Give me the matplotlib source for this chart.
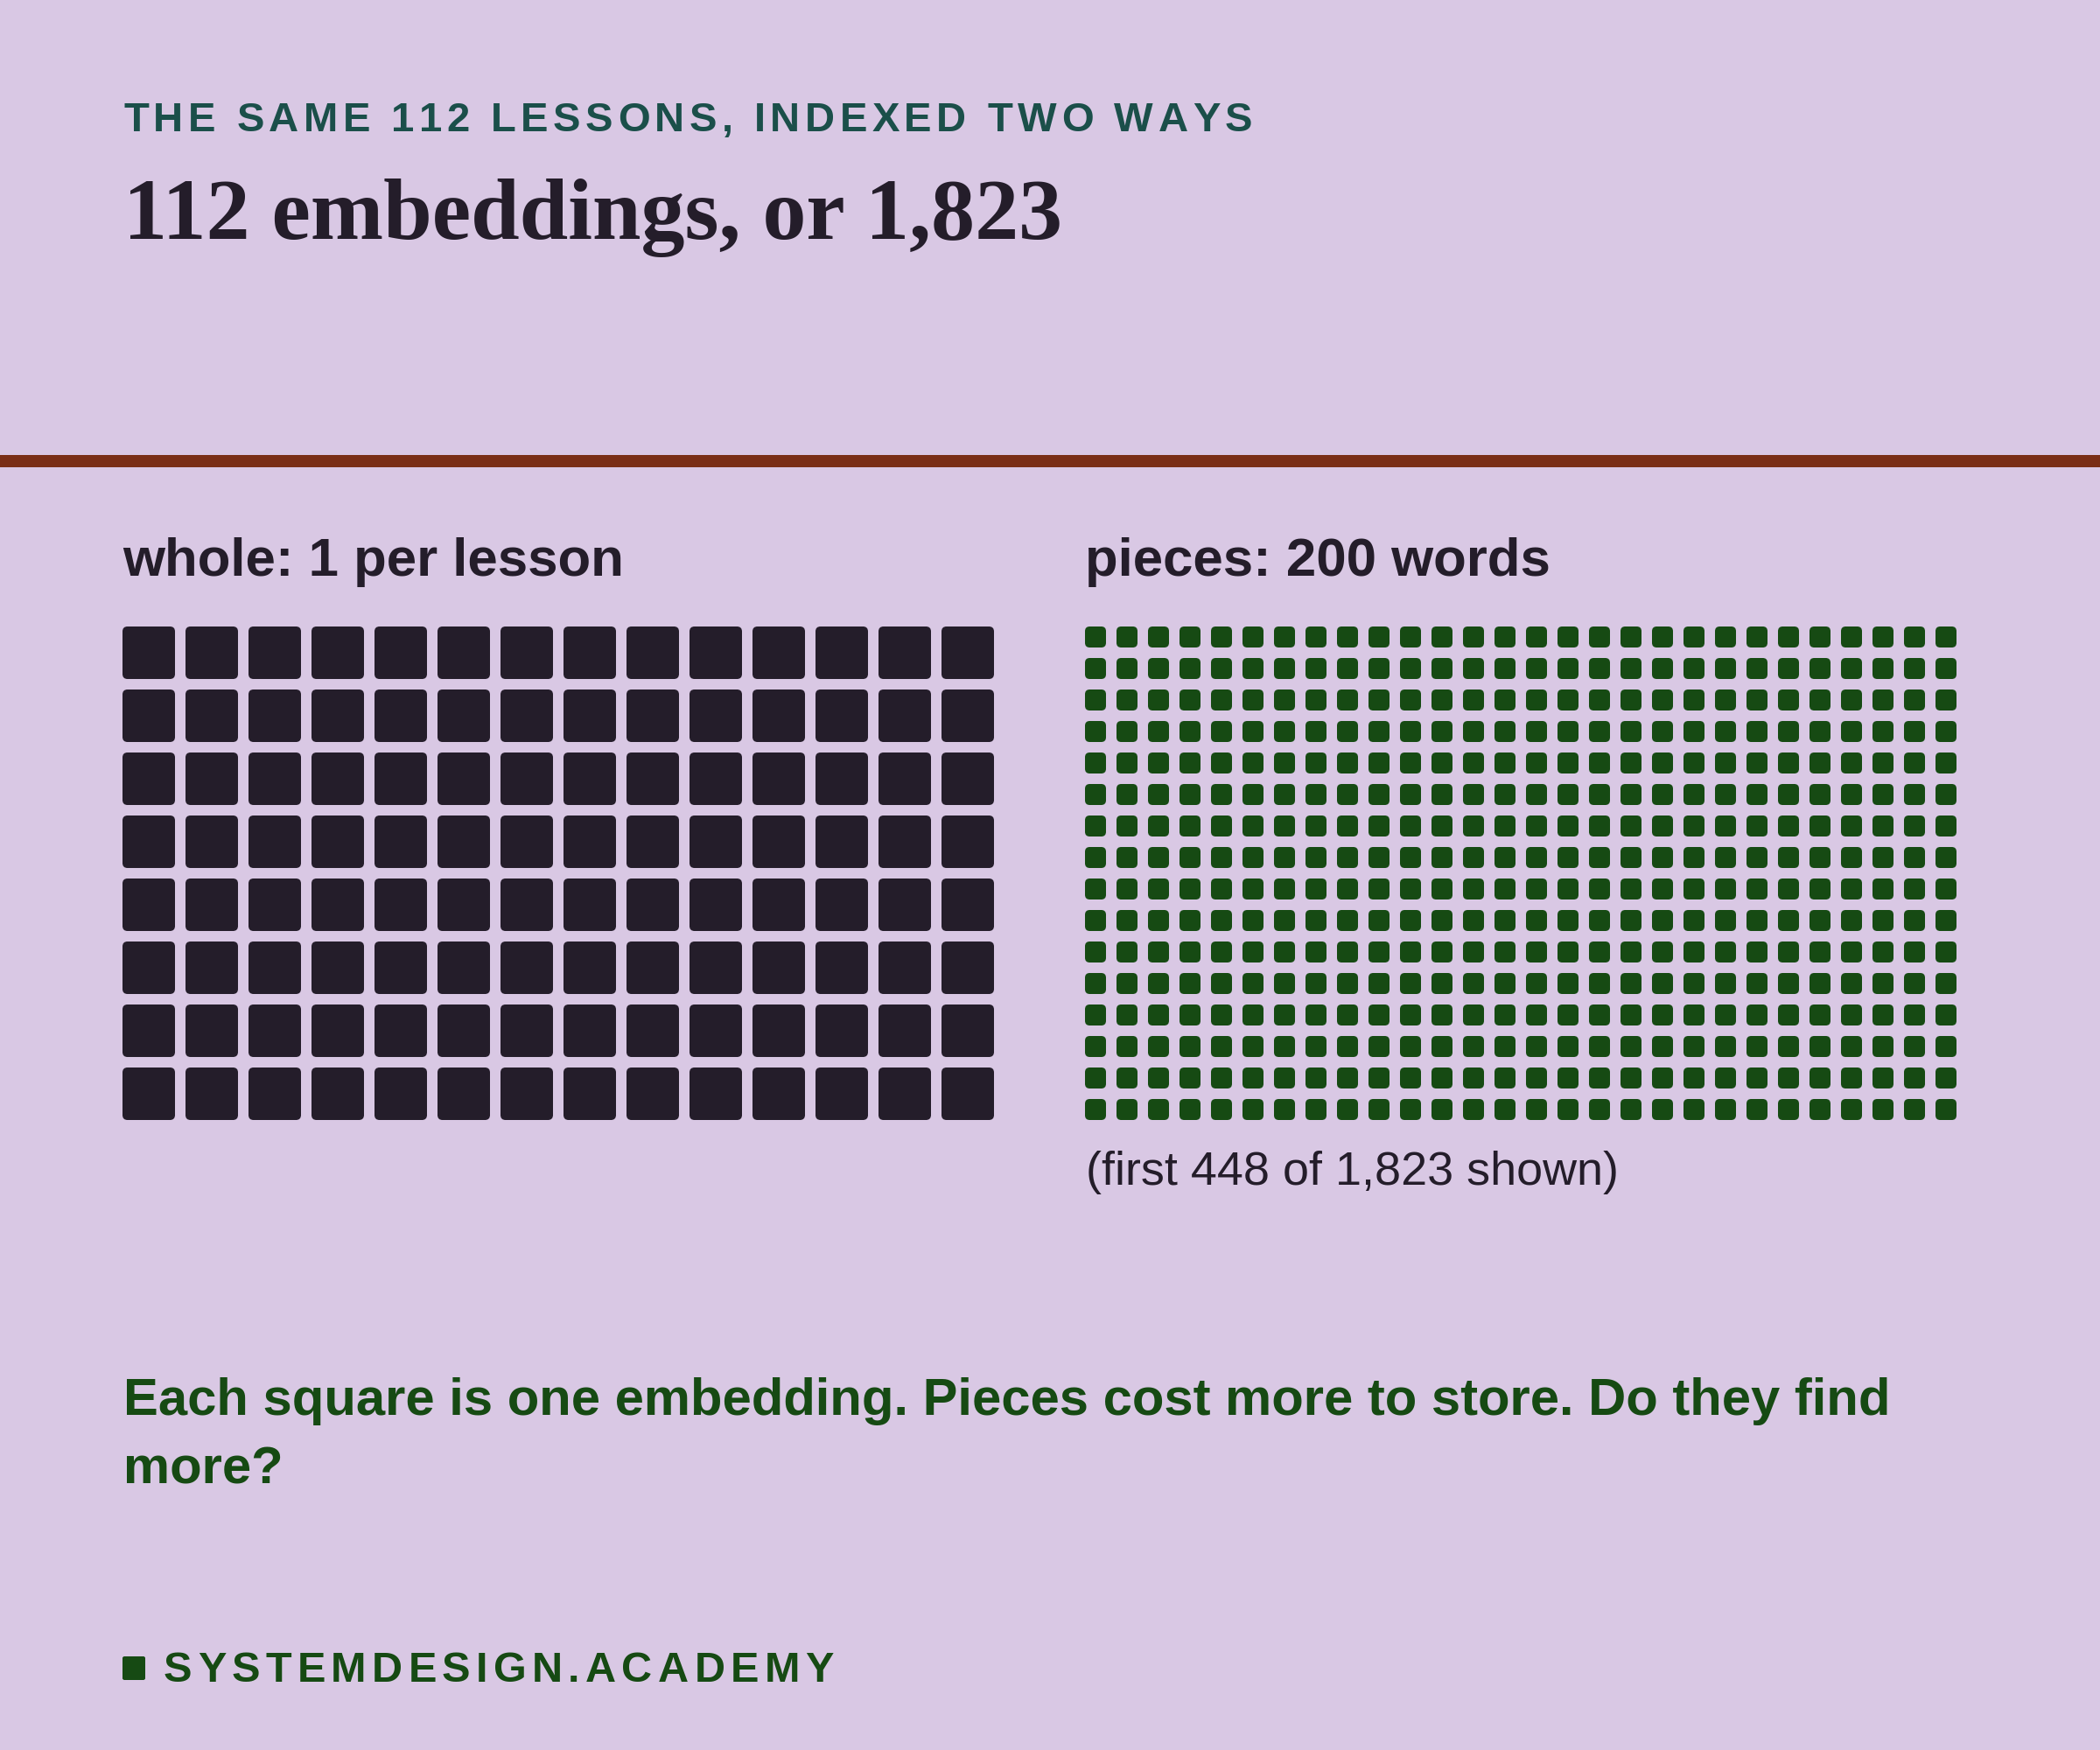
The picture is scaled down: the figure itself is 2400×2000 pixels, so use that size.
import matplotlib
matplotlib.use('Agg')
import matplotlib.pyplot as plt
from matplotlib.patches import FancyBboxPatch, Rectangle
from matplotlib.font_manager import FontProperties, findfont, get_font

W, H = 2400, 2000
BG = '#d9c8e4'
INK = '#241d2a'
GREEN = '#164a13'
TEAL = '#1b4f4a'
RUST = '#7a2e16'

#%% data
n_lessons = 112
n_pieces = 1823
n_shown = 448
whole_cols = 14
piece_cols = 28

kicker = 'THE SAME 112 LESSONS, INDEXED TWO WAYS'
title = '112 embeddings, or 1,823'
whole_label = 'whole: 1 per lesson'
piece_label = 'pieces: 200 words'
shown_note = '(first {} of {:,} shown)'.format(n_shown, n_pieces)
takeaway = ['Each square is one embedding. Pieces cost more to store. Do they find',
            'more?']
brand = 'SYSTEMDESIGN.ACADEMY'

#%% helpers
fig = plt.figure(figsize=(W / 100, H / 100), dpi=100, facecolor=BG)


def fx(x):
    return x / W


def fy(y):
    return 1 - y / H


def spaced(x, y, s, size, color, track):
    # draw caps with extra letter spacing, char by char
    prop = FontProperties(family='Liberation Sans', weight='bold', size=size)
    font = get_font(findfont(prop))
    font.set_size(size, 100)
    for ch in s:
        fig.text(fx(x), fy(y), ch, fontproperties=prop, color=color,
                 ha='left', va='baseline')
        adv = font.load_char(ord(ch)).linearHoriAdvance / 65536
        x += adv + track * size * 100 / 72


def waffle(left, n, ncols, size, radius, color):
    ax = fig.add_axes([fx(left), fy(1280), 996 / W, 564 / H])
    nrows = -(-n // ncols)
    for i in range(n):
        r, c = divmod(i, ncols)
        ax.add_patch(FancyBboxPatch((c, r), size, size,
                                    boxstyle='round,pad=0,rounding_size=%g' % radius,
                                    fc=color, ec='none'))
    ax.set_xlim(0, ncols - 1 + size)
    ax.set_ylim(nrows - 1 + size, 0)
    ax.axis('off')
    return ax


#%% header
spaced(141, 150, kicker, 34, TEAL, 0.115)
fig.text(fx(141), fy(273), title, family='Liberation Serif', weight='bold',
         size=72, color=INK, va='baseline')
fig.add_artist(Rectangle((0, fy(534)), 1, 14 / H, transform=fig.transFigure,
                         fc=RUST, ec='none'))

#%% the two grids
fig.text(fx(140), fy(658), whole_label, family='Liberation Sans', weight='bold',
         size=44.5, color=INK, va='baseline')
fig.text(fx(1240), fy(658), piece_label, family='Liberation Sans', weight='bold',
         size=44.5, color=INK, va='baseline')

waffle(140, n_lessons, whole_cols, 60 / 72, 0.08, INK)
waffle(1240, n_shown, piece_cols, 24 / 36, 0.15, GREEN)

fig.text(fx(1241), fy(1354), shown_note, family='Liberation Sans',
         size=38.8, color=INK, va='baseline')

#%% takeaway + footer
for i, line in enumerate(takeaway):
    fig.text(fx(141), fy(1617 + 79 * i), line, family='Liberation Sans',
             weight='bold', size=43, color=GREEN, va='baseline')

fig.add_artist(FancyBboxPatch((fx(140), fy(1920)), 26 / W, 27 / H,
                              boxstyle='round,pad=0,rounding_size=0.001',
                              transform=fig.transFigure, fc=GREEN, ec='none'))
spaced(187, 1922, brand, 35, GREEN, 0.13)

fig.savefig('out.png', dpi=100, facecolor=BG)
